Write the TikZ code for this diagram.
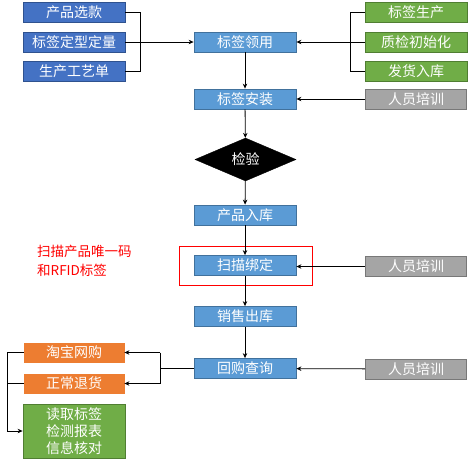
\documentclass[tikz,border=0pt]{standalone}
\usepackage{fontspec}
\newfontfamily\cjk{Noto Sans CJK SC}
\usetikzlibrary{shapes.geometric,arrows.meta}
\definecolor{dblue}{HTML}{4472C4}
\definecolor{dblueb}{HTML}{2F528F}
\definecolor{lblue}{HTML}{5B9BD5}
\definecolor{lblueb}{HTML}{41719C}
\definecolor{lgreen}{HTML}{70AD47}
\definecolor{lgreenb}{HTML}{507E32}
\definecolor{lgray}{HTML}{A5A5A5}
\definecolor{lgrayb}{HTML}{787878}
\definecolor{lorange}{HTML}{ED7D31}
\tikzset{
  base/.style={rectangle, inner sep=0pt, text=white, line width=0.8pt,
    font=\cjk\fontsize{14}{16.7}\selectfont, align=center},
  dbox/.style={base, fill=dblue, draw=dblueb, minimum width=102pt, minimum height=20pt},
  lbox/.style={base, fill=lblue, draw=lblueb, minimum width=102pt, minimum height=20pt},
  gbox/.style={base, fill=lgreen, draw=lgreenb, minimum width=102pt, minimum height=20pt},
  graybox/.style={base, fill=lgray, draw=lgrayb, minimum width=101pt, minimum height=20pt},
  obox/.style={base, fill=lorange, draw=lorange, minimum width=100pt, minimum height=19pt},
  conn/.style={draw=black, line width=0.8pt},
  arr/.style={conn, -{Stealth[length=5pt,width=4.5pt]}}
}
\begin{document}
\begin{tikzpicture}[x=1pt,y=-1pt]
\useasboundingbox (0,0) rectangle (474,464);
\fill[white] (0,0) rectangle (474,464);
% left inputs
\node[dbox] (a1) at (74,12.5) {产品选款};
\node[dbox] (a2) at (74,42) {标签定型定量};
\node[dbox] (a3) at (74,71.5) {生产工艺单};
% right inputs
\node[gbox] (c1) at (416,12.5) {标签生产};
\node[gbox] (c2) at (416,42) {质检初始化};
\node[gbox] (c3) at (416,71.5) {发货入库};
% main column
\node[lbox] (b1) at (245,42) {标签领用};
\node[lbox] (b2) at (245,99) {标签安装};
\node[diamond, aspect=2.35, fill=black, draw=black, inner sep=0pt, minimum width=101pt, minimum height=43pt, text=white, font=\cjk\fontsize{14}{16}\selectfont] (d) at (245.5,159.5) {检验};
\node[lbox] (b3) at (245,215) {产品入库};
\node[lbox] (b4) at (245,265.5) {扫描绑定};
\node[lbox] (b5) at (245,316.5) {销售出库};
\node[lbox] (b6) at (245,368.5) {回购查询};
% training
\node[graybox] (g1) at (416,99) {人员培训};
\node[graybox] (g2) at (416,266.5) {人员培训};
\node[graybox] (g3) at (416,369) {人员培训};
% red highlight
\node[draw=red, line width=0.8pt, minimum width=133pt, minimum height=39pt, inner sep=0pt] (rb) at (245.5,265.5) {};
\node[text=red, anchor=north west, align=left, inner sep=0pt, font=\cjk\fontsize{13.5}{19}\selectfont] (rt) at (37,245) {扫描产品唯一码\\和RFID标签};
% bottom-left
\node[obox] (o1) at (74,352.5) {淘宝网购};
\node[obox] (o2) at (74,383.5) {正常退货};
\node[gbox, minimum height=54pt] (gr) at (74,431) {读取标签\\检测报表\\信息核对};
% coordinates
\coordinate (l1) at (140,12.5);
\coordinate (l3) at (140,71.5);
\coordinate (r1) at (350,12.5);
\coordinate (r3) at (350,71.5);
\coordinate (m1) at (160,352.5);
\coordinate (m2) at (160,383.5);
\coordinate (m0) at (160,368.5);
\coordinate (k1) at (7,352.5);
\coordinate (k2) at (7,383.5);
\coordinate (k3) at (7,431);
% connectors
\draw[conn] (a1.east) -- (l1) -- (l3) -- (a3.east);
\draw[arr] (a2.east) -- (b1.west);
\draw[conn] (c1.west) -- (r1) -- (r3) -- (c3.west);
\draw[arr] (c2.west) -- (b1.east);
\draw[arr] (b1) -- (b2);
\draw[arr] (b2) -- (d);
\draw[arr] (d) -- (b3);
\draw[arr] (b3) -- (b4);
\draw[arr] (b4) -- (b5);
\draw[arr] (b5) -- (b6);
\draw[arr] (g1) -- (b2);
\draw[arr] (g2.west) -- (b4.east |- g2.west);
\draw[arr] (g3) -- (b6);
\draw[conn] (b6.west) -- (m0);
\draw[conn] (m1) -- (m2);
\draw[arr] (m1) -- (o1.east);
\draw[arr] (m2) -- (o2.east);
\draw[conn] (o1.west) -- (k1) -- (k3);
\draw[conn] (o2.west) -- (k2);
\draw[arr] (k3) -- (gr.west);
\end{tikzpicture}
\end{document}
